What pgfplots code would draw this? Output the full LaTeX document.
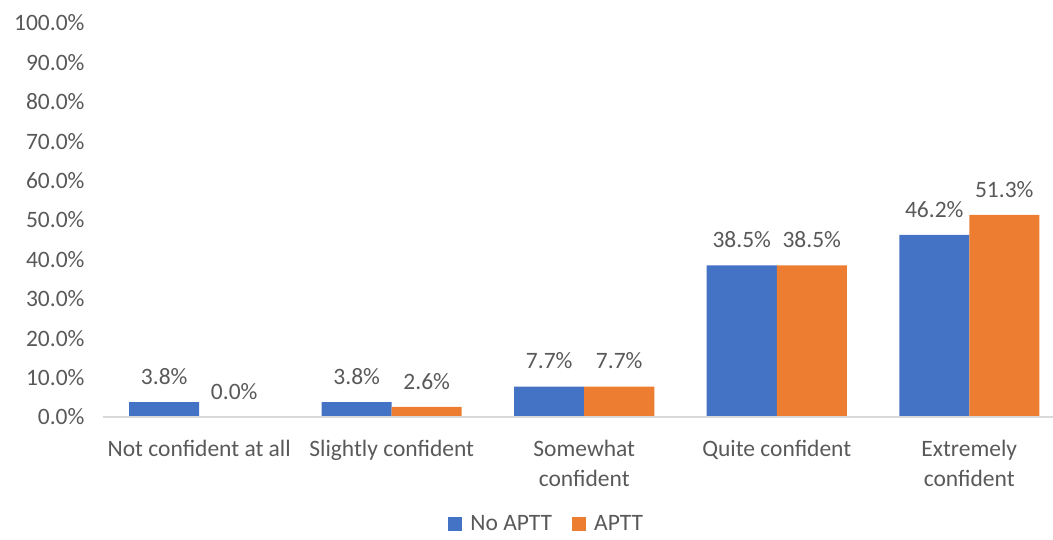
\documentclass[border=0pt]{standalone}
\usepackage{pgfplots}
\pgfplotsset{compat=1.18}
\usepackage{fontspec}
\setmainfont{Carlito}
\definecolor{cblue}{HTML}{4472C4}
\definecolor{corange}{HTML}{ED7D31}
\definecolor{txt}{HTML}{595959}
\definecolor{axl}{HTML}{D9D9D9}
\begin{document}
\begin{tikzpicture}
\useasboundingbox (-103pt,-122pt) rectangle (950pt,417pt);
\clip (-103pt,-122pt) rectangle (950pt,417pt);
\begin{axis}[
  at={(0,0)}, anchor=south west,
  scale only axis, width=962.5pt, height=394pt,
  ybar=0pt, bar width=70pt,
  xmin=-0.5, xmax=4.5, ymin=0, ymax=100,
  xtick=data,
  xticklabels={Not confident at all,Slightly confident,Somewhat\\confident,Quite confident,Extremely\\confident},
  ytick={0,10,...,100},
  axis x line*=bottom, axis y line*=left,
  x axis line style={draw=axl, line width=1.2pt, -},
  y axis line style={draw=none},
  axis on top,
  xtick style={draw=none}, ytick style={draw=none},
  font=\fontsize{23.5}{30}\selectfont,
  every tick label/.append style={text=txt},
  xticklabel style={align=center, yshift=-15pt},
  yticklabel style={xshift=-15pt},
  /pgf/number format/assume math mode=true,
  yticklabel={\pgfmathprintnumber[fixed,fixed zerofill,precision=1]{\tick}\%},
  nodes near coords={\pgfmathprintnumber[fixed,fixed zerofill,precision=1]{\pgfplotspointmeta}\%},
  every node near coord/.append style={text=txt, yshift=14pt},
  legend columns=2,
  legend style={draw=none, at={(0.461,-0.272)}, anchor=center,
    text=txt, column sep=6pt, inner sep=0pt,
    /tikz/every even column/.append style={column sep=18pt}},
  legend image code/.code={\fill[#1] (0pt,-7pt) rectangle (14pt,7pt);},
]
\addplot[fill=cblue, draw=none] coordinates {(0,3.8) (1,3.8) (2,7.7) (3,38.5) (4,46.2)};
\addplot[fill=corange, draw=none] coordinates {(0,0.0) (1,2.6) (2,7.7) (3,38.5) (4,51.3)};
\legend{No APTT,APTT}
\end{axis}
\end{tikzpicture}
\end{document}
